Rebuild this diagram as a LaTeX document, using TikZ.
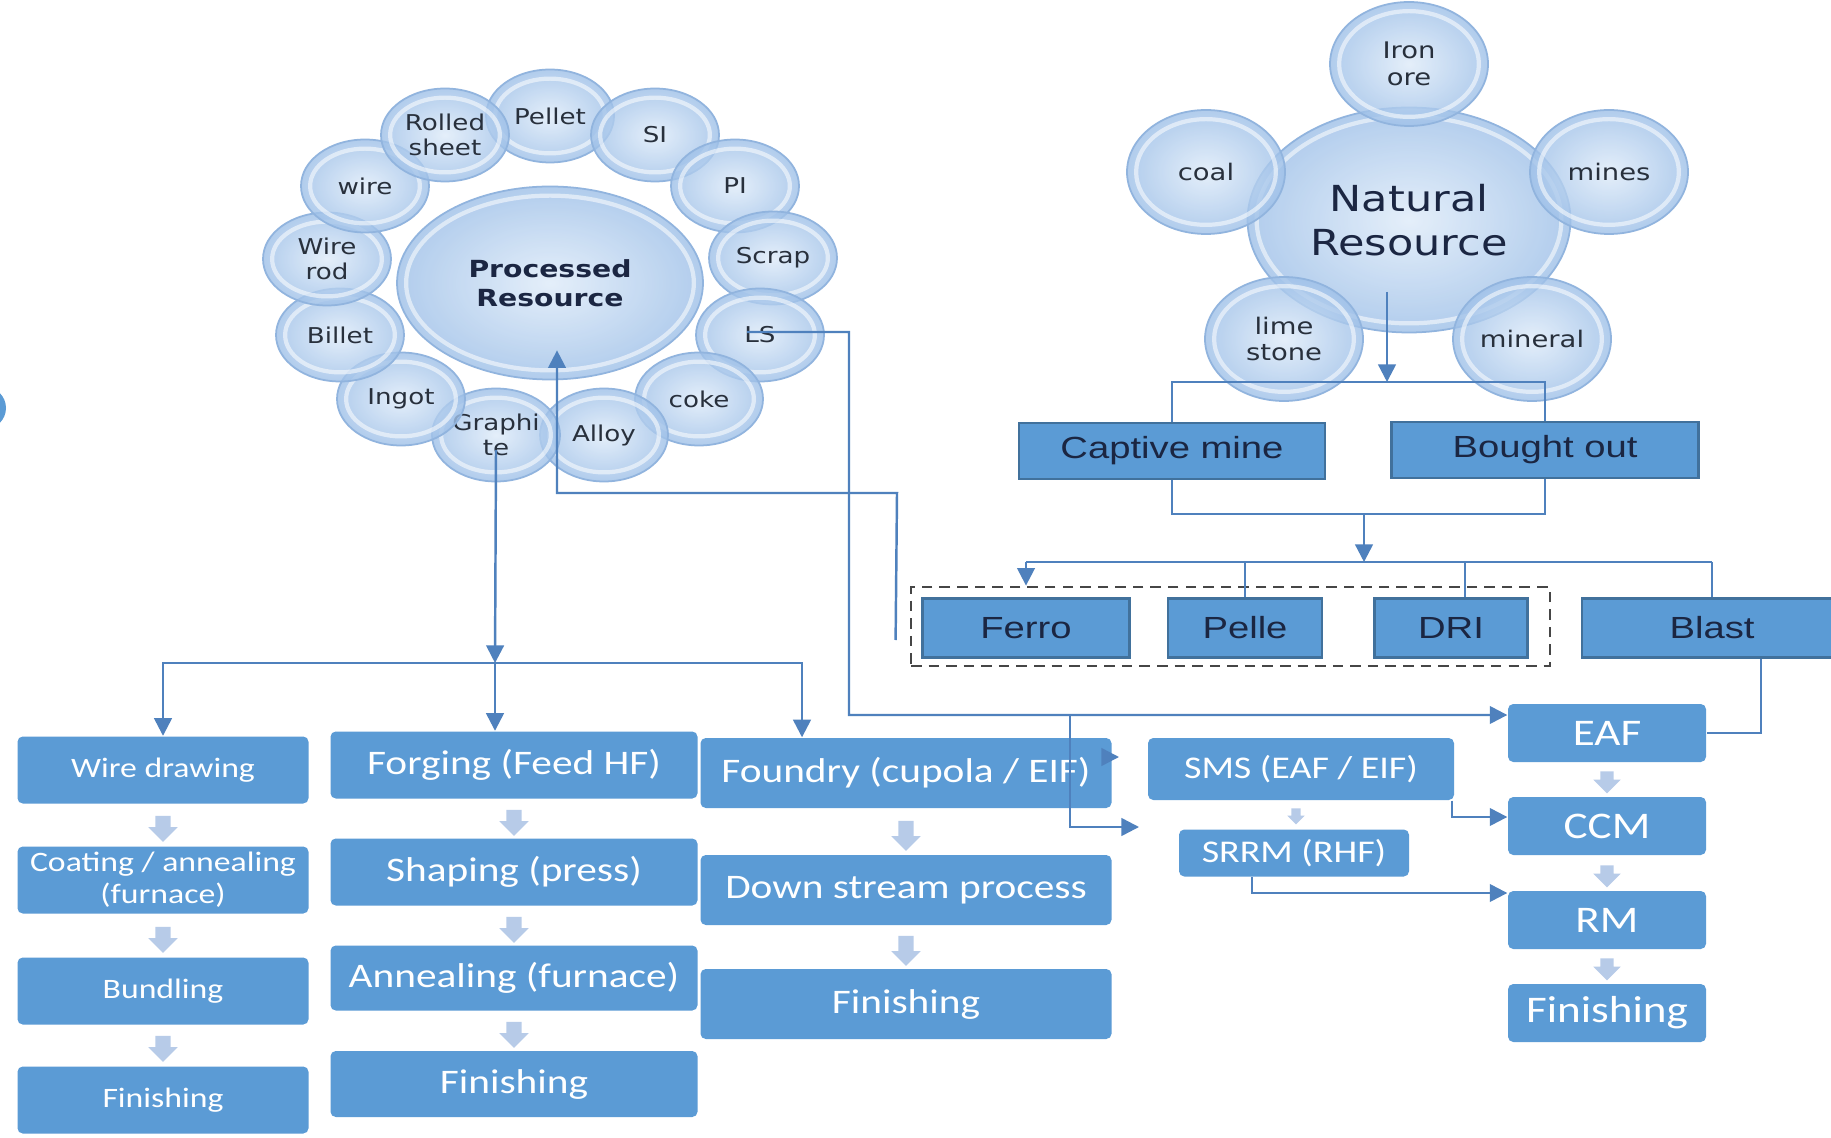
\documentclass[tikz,border=0pt]{standalone}
\usepackage{fontspec}
\usepackage{tikz}
\usetikzlibrary{arrows.meta,shapes.geometric,shapes.arrows,calc}

\newfontfamily\bubfont[FakeStretch=1.2]{DejaVu Sans}
\newfontfamily\topfont[FakeStretch=1.25]{Liberation Sans}
\newfontfamily\boxfont[FakeStretch=1.2]{Carlito}

\definecolor{boxblue}{RGB}{91,155,213}
\definecolor{boxedge}{RGB}{65,113,156}
\definecolor{linkblue}{RGB}{79,129,189}
\definecolor{navytext}{RGB}{27,38,66}
\definecolor{arrowgray}{RGB}{183,203,232}
\definecolor{dashgray}{RGB}{70,70,70}
\definecolor{bubin}{RGB}{222,235,249}
\definecolor{bubout}{RGB}{158,192,232}
\definecolor{bubrim}{RGB}{145,180,222}
\definecolor{bubtext}{RGB}{40,48,60}

\tikzset{
  bubble/.style={ellipse, draw=bubrim, line width=0.5pt, inner color=bubin, outer color=bubout,
    fill opacity=0.8, text opacity=1, text=bubtext, inner sep=0pt, align=center,
    minimum width=1.28cm, minimum height=0.93cm, font=\bubfont\fontsize{6.2}{7.3}\selectfont,
    path picture={
      \path (path picture bounding box.south west) coordinate (bl)
            (path picture bounding box.north east) coordinate (tr);
      \draw[white, draw opacity=0.55, line width=1.2pt]
        let \p1=(bl), \p2=(tr) in ($(bl)!0.5!(tr)$)
        ellipse [x radius={(\x2-\x1)/2-2.6pt}, y radius={(\y2-\y1)/2-2.6pt}];
    }},
  rawbubble/.style={bubble, minimum width=1.58cm, minimum height=1.24cm, font=\bubfont\fontsize{6.5}{7.6}\selectfont},
  hub/.style={bubble, text=navytext},
  srcbox/.style={rectangle, draw=boxedge, line width=0.7pt, fill=boxblue, text=navytext, inner sep=0pt,
    minimum height=0.56cm, font=\topfont\fontsize{8.7}{10}\selectfont},
  stepbox/.style={rectangle, rounded corners=1.5pt, fill=boxblue, text=white, inner sep=0pt, align=center,
    font=\boxfont\fontsize{9.8}{11}\selectfont},
  smallstep/.style={stepbox, minimum width=2.91cm, minimum height=0.67cm, font=\boxfont\fontsize{8}{9.2}\selectfont},
  millbox/.style={stepbox, font=\boxfont\fontsize{9}{10}\selectfont},
  stagebox/.style={stepbox, minimum width=1.98cm, minimum height=0.58cm, font=\boxfont\fontsize{10.7}{12}\selectfont},
  dashgroup/.style={draw=dashgray, dash pattern=on 3pt off 2pt, line width=0.8pt, inner sep=0pt},
  flowarrow/.style={single arrow, shape border rotate=270, fill=arrowgray, inner sep=0.07cm,
    minimum height=0.26cm, single arrow head extend=0.07cm},
  conn/.style={draw=linkblue, line width=0.7pt},
  arrowconn/.style={conn, -{Triangle[width=5pt,length=5pt]}},
}

\begin{document}
\begin{tikzpicture}[x=1cm, y=-1cm]
  \useasboundingbox[fill=white] (0,0) rectangle (18.31,11.38);
  \fill[boxblue] (-0.15,4.08) circle (0.21);

  % Processed resource
  \node[hub, minimum width=3.06cm, minimum height=1.93cm, font=\bubfont\bfseries\fontsize{6.7}{8.3}\selectfont] (proc) at (5.50,2.83) {Processed\\Resource};
  \node[bubble] (pellet) at (5.50,1.16) {Pellet};
  \node[bubble] (si) at (6.55,1.35) {SI};
  \node[bubble] (pi) at (7.35,1.86) {PI};
  \node[bubble] (scrap) at (7.73,2.58) {Scrap};
  \node[bubble] (ls) at (7.60,3.35) {LS};
  \node[bubble] (coke) at (6.99,3.99) {coke};
  \node[bubble] (alloy) at (6.04,4.35) {Alloy};
  \node[bubble] (graph) at (4.96,4.35) {Graphi\\te};
  \node[bubble] (ingot) at (4.01,3.99) {Ingot};
  \node[bubble] (billet) at (3.40,3.35) {Billet};
  \node[bubble] (wrod) at (3.27,2.59) {Wire\\rod};
  \node[bubble] (wire) at (3.65,1.86) {wire};
  \node[bubble] (rolled) at (4.45,1.35) {Rolled\\sheet};

  % Natural resource
  \node[hub, minimum width=3.23cm, minimum height=2.25cm, font=\bubfont\fontsize{10.2}{12.6}\selectfont] (nat) at (14.09,2.20) {Natural\\Resource};
  \node[rawbubble] (iron) at (14.09,0.64) {Iron\\ore};
  \node[rawbubble] (coal) at (12.06,1.72) {coal};
  \node[rawbubble] (mines) at (16.09,1.72) {mines};
  \node[rawbubble] (lime) at (12.84,3.39) {lime\\stone};
  \node[rawbubble] (mineral) at (15.32,3.39) {mineral};

  % Sources
  \node[srcbox, minimum width=3.06cm] (capt) at (11.72,4.51) {Captive mine};
  \node[srcbox, minimum width=3.07cm] (bought) at (15.45,4.50) {Bought out};
  \node[dashgroup, minimum width=6.39cm, minimum height=0.79cm] (grp) at (12.305,6.265) {};
  \node[srcbox, minimum width=2.07cm, minimum height=0.59cm] (ferro) at (10.26,6.28) {Ferro};
  \node[srcbox, minimum width=1.54cm, minimum height=0.59cm] (pelle) at (12.45,6.28) {Pelle};
  \node[srcbox, minimum width=1.53cm, minimum height=0.59cm] (dri) at (14.51,6.28) {DRI};
  \node[srcbox, minimum width=2.60cm, minimum height=0.59cm] (blast) at (17.12,6.28) {Blast};

  % Wire route
  \node[smallstep] (wdraw) at (1.63,7.70) {Wire drawing};
  \node[smallstep] (coat) at (1.63,8.80) {Coating / annealing\\(furnace)};
  \node[smallstep] (bund) at (1.63,9.91) {Bundling};
  \node[smallstep] (fin1) at (1.63,11.00) {Finishing};
  \node[flowarrow] (d1) at (1.63,8.25) {};
  \node[flowarrow] (d2) at (1.63,9.36) {};
  \node[flowarrow] (d3) at (1.63,10.45) {};

  % Forging route
  \node[stepbox, minimum width=3.67cm, minimum height=0.67cm] (forge) at (5.14,7.65) {Forging (Feed HF)};
  \node[stepbox, minimum width=3.67cm, minimum height=0.67cm] (press) at (5.14,8.72) {Shaping (press)};
  \node[stepbox, minimum width=3.67cm, minimum height=0.65cm] (anneal) at (5.14,9.78) {Annealing (furnace)};
  \node[stepbox, minimum width=3.67cm, minimum height=0.66cm] (fin2) at (5.14,10.84) {Finishing};
  \node[flowarrow] (d4) at (5.14,8.19) {};
  \node[flowarrow] (d5) at (5.14,9.26) {};
  \node[flowarrow] (d6) at (5.14,10.31) {};

  % Foundry route
  \node[stepbox, minimum width=4.11cm, minimum height=0.70cm] (fdy) at (9.06,7.73) {Foundry (cupola / EIF)};
  \node[stepbox, minimum width=4.11cm, minimum height=0.70cm] (dstream) at (9.06,8.90) {Down stream process};
  \node[stepbox, minimum width=4.11cm, minimum height=0.70cm] (fin3) at (9.06,10.04) {Finishing};
  \node[flowarrow, minimum height=0.3cm] (d7) at (9.06,8.32) {};
  \node[flowarrow, minimum height=0.3cm] (d8) at (9.06,9.47) {};

  % Steel plant route
  \node[millbox, minimum width=3.06cm, minimum height=0.62cm] (sms) at (13.01,7.69) {SMS (EAF / EIF)};
  \node[millbox, minimum width=2.30cm, minimum height=0.47cm] (srrm) at (12.94,8.53) {SRRM (RHF)};
  \node[flowarrow, inner sep=0.04cm, minimum height=0.16cm, single arrow head extend=0.04cm] (d9) at (12.96,8.14) {};
  \node[stagebox] (eaf) at (16.07,7.33) {EAF};
  \node[stagebox] (ccm) at (16.07,8.26) {CCM};
  \node[stagebox] (rm) at (16.07,9.20) {RM};
  \node[stagebox] (fin4) at (16.07,10.13) {Finishing};
  \node[flowarrow, inner sep=0.06cm, minimum height=0.22cm] (d10) at (16.07,7.79) {};
  \node[flowarrow, inner sep=0.06cm, minimum height=0.22cm] (d11) at (16.07,8.73) {};
  \node[flowarrow, inner sep=0.06cm, minimum height=0.22cm] (d12) at (16.07,9.66) {};

  % Joints
  \coordinate (natout) at (13.87,2.92);
  \coordinate (natbar) at (13.87,3.82);
  \coordinate (mix) at (13.64,5.14);
  \coordinate (feedbar) at (13.64,5.62);
  \coordinate (procbar) at (4.95,6.63);
  \coordinate (scrapdrop) at (8.49,7.15);
  \coordinate (smsjoin) at (10.70,7.15);
  \coordinate (srrmin) at (11.39,8.27);
  \coordinate (smsin) at (11.19,7.57);
  \coordinate (backturn) at (8.97,4.93);

  % Edges
  \draw[arrowconn] (natout) -- (natbar);
  \draw[conn] (capt.north) -- (capt.north |- natbar) -- (bought.north |- natbar) -- (bought.north);
  \draw[conn] (capt.south) |- (mix) -| (bought.south);
  \draw[arrowconn] (mix) -- (feedbar);
  \draw[conn] (ferro.north |- feedbar) -- (blast.north |- feedbar);
  \draw[arrowconn] (ferro.north |- feedbar) -- (ferro.north |- grp.north);
  \draw[conn] (pelle.north |- feedbar) -- (pelle.north);
  \draw[conn] ([xshift=0.14cm]dri.north |- feedbar) -- ([xshift=0.14cm]dri.north);
  \draw[conn] (blast.north |- feedbar) -- (blast.north);
  \draw[conn] ([xshift=0.49cm]blast.south) |- (eaf.east);
  \draw[arrowconn] ([xshift=-0.13cm,yshift=0.03cm]ls.center) -| (scrapdrop) -- ([yshift=0.18cm]eaf.west);
  \draw[arrowconn] (smsjoin) |- (srrmin);
  \draw[arrowconn] ([yshift=0.16cm]fdy.east) -- (smsin);
  \draw[arrowconn] ([xshift=-0.03cm]sms.south east) |- ([yshift=0.09cm]ccm.west);
  \draw[arrowconn] ([xshift=-0.42cm]srrm.south) |- ([yshift=0.27cm]rm.west);
  \draw[arrowconn] ([xshift=-0.14cm,yshift=-0.135cm]grp.west) -- (backturn) -| ([xshift=0.07cm,yshift=0.3cm]proc.south);
  \draw[arrowconn] ([yshift=-0.15cm]graph.center) -- (procbar);
  \draw[arrowconn] (procbar) -- ([xshift=-0.19cm]forge.north);
  \draw[arrowconn] (procbar) -| (wdraw.north);
  \draw[arrowconn] (procbar) -| ([xshift=-1.04cm]fdy.north);
\end{tikzpicture}
\end{document}
